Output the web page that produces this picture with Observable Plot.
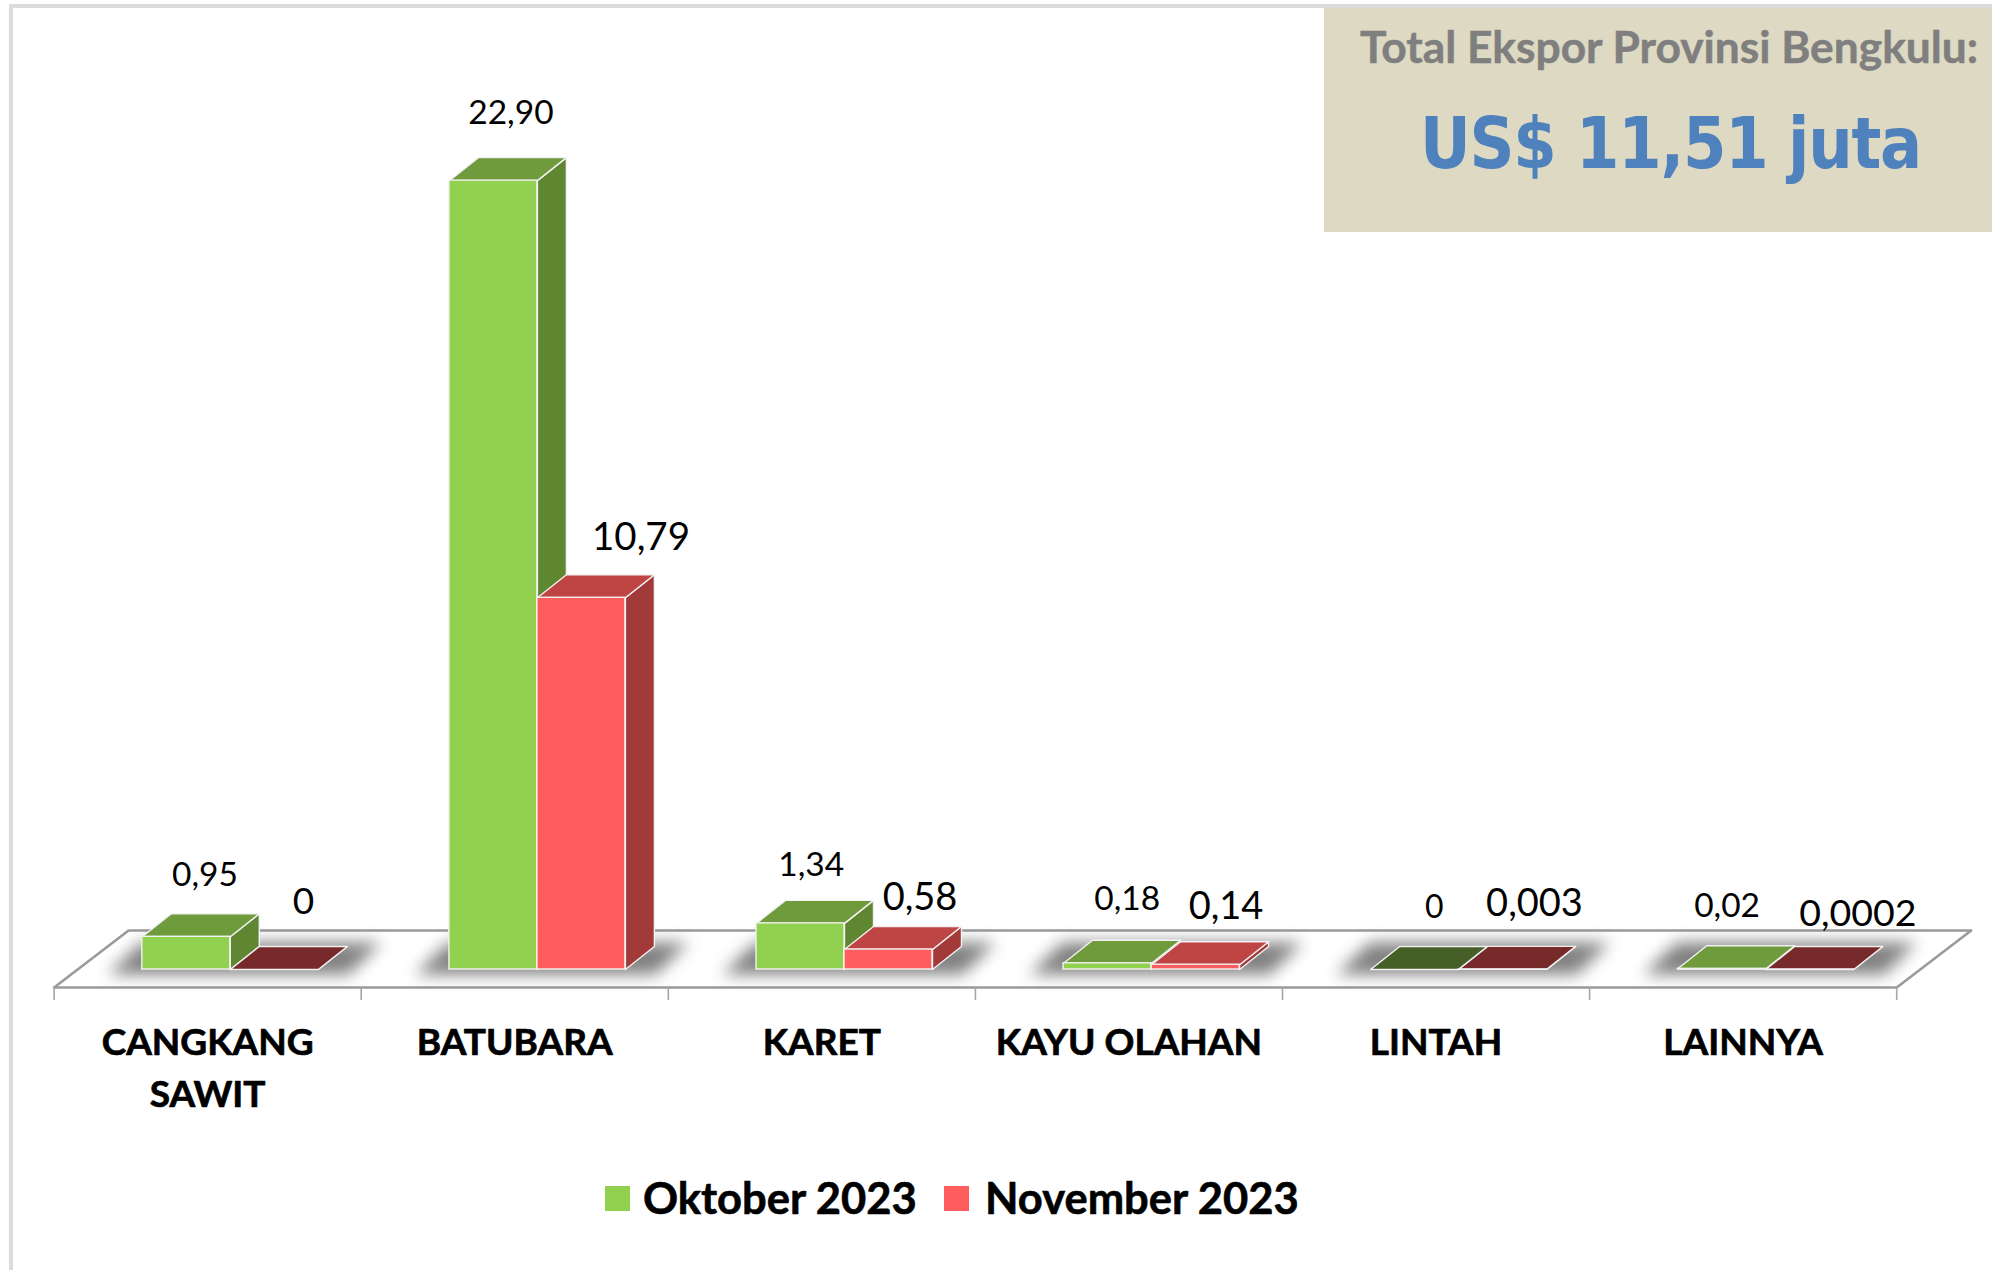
<!DOCTYPE html>
<html>
<head>
<meta charset="utf-8">
<script src="https://cdn.jsdelivr.net/npm/d3@7"></script>
<script src="https://cdn.jsdelivr.net/npm/@observablehq/plot@0.6"></script>
<style>
  html, body { margin: 0; padding: 0; background: #fff; }
  #page { position: relative; width: 1992px; height: 1270px; overflow: hidden; font-family: Lato, sans-serif; }
  .edge { position: absolute; background: #dcdcdc; }
  #box { position: absolute; left: 1324px; top: 8px; width: 668px; height: 224px; background: #ddd9c3; }
  #box div { position: absolute; white-space: nowrap; line-height: 1; }
  #boxTitle { left: 36px; top: 15.5px; font: 700 44.3px Lato, sans-serif; color: #7f7f7f; -webkit-text-stroke: 0.5px #7f7f7f; }
  #boxValue { left: 96px; top: 100px; font: 700 71px "DejaVu Sans", sans-serif; color: #4f81bd; letter-spacing: -1.4px; transform: scaleX(0.88); transform-origin: left center; }
  #legend { position: absolute; left: 0; top: 0; width: 100%; font: 700 43.5px Lato, sans-serif; color: #000; -webkit-text-stroke: 0.6px #000; }
  #legend span { position: absolute; white-space: nowrap; line-height: 1; }
  #legend i { position: absolute; width: 25px; height: 25px; top: 1186px; }
  svg { position: absolute; left: 0; top: 0; overflow: visible; }
</style>
</head>
<body>
<div id="page">
  <div class="edge" style="left:9px;top:4px;width:4px;height:1266px"></div>
  <div class="edge" style="left:9px;top:4px;width:1983px;height:4px"></div>
  <div id="chart"></div>
  <div id="box">
    <div id="boxTitle">Total Ekspor Provinsi Bengkulu:</div>
    <div id="boxValue">US$ 11,51 juta</div>
  </div>
  <div id="legend"></div>
</div>
<script>
// ---- data ----
const categories = ["CANGKANG\nSAWIT", "BATUBARA", "KARET", "KAYU OLAHAN", "LINTAH", "LAINNYA"];
const seriesNames = ["Oktober 2023", "November 2023"];
const oktober = [0.95, 22.90, 1.34, 0.18, 0, 0.02];
const november = [0, 10.79, 0.58, 0.14, 0.003, 0.0002];
const oktoberLabels = ["0,95", "22,90", "1,34", "0,18", "0", "0,02"];
const novemberLabels = ["0", "10,79", "0,58", "0,14", "0,003", "0,0002"];

// ---- styling and layout ----
const palette = [
  {front: "#92d050", top: "#6f9b3c", side: "#5f8732", flat: "#465f26"},
  {front: "#ff5d5d", top: "#bf4545", side: "#a33a3a", flat: "#772a2a"}
];
const yPerPx = 1 / 34.45, xPerPx = 1 / 307.1;
const barStart = 88.2 * xPerPx, barWidth = 88 * xPerPx;
const depthX = 29 * xPerPx, depthY = 23 * yPerPx;
const floorFront = -18 * yPerPx, floorBack = 39 * yPerPx, floorSkew = 74.5 * xPerPx;
const labelOffsets = [
  [[18.6, -50.3, 33.5], [17.5, -56.4, 33.5], [10.7, -47.8, 33.5], [19.6, -52.8, 33.5], [19.5, -51.3, 32], [5.3, -51.6, 33.5]],
  [[29.3, -56, 37], [59.6, -47.7, 38.5], [31.5, -40, 38], [30.4, -46, 38], [31.8, -53, 38], [48, -43, 37.5]]
];

// ---- geometry derived from the values ----
const bars = [oktober, november].flatMap((vals, s) => vals.map((v, c) => {
  const x1 = c + barStart + s * barWidth, x2 = x1 + barWidth;
  return {c, s, v, x1, x2, label: (s ? novemberLabels : oktoberLabels)[c], offset: labelOffsets[s][c]};
}));
const poly = (id, fill, pts) => pts.concat([pts[0]]).map(([x, y]) => ({id, fill, x, y}));
const faces = bars.flatMap(b => {
  const p = palette[b.s], flat = b.v < 0.01;
  return [
    ...poly(`side-${b.c}-${b.s}`, p.side, [[b.x2, 0], [b.x2 + depthX, depthY], [b.x2 + depthX, b.v + depthY], [b.x2, b.v]]),
    ...poly(`top-${b.c}-${b.s}`, flat ? p.flat : p.top, [[b.x1, b.v], [b.x1 + depthX, b.v + depthY], [b.x2 + depthX, b.v + depthY], [b.x2, b.v]])
  ];
});
const shadows = categories.flatMap((_, c) => {
  const a = c + barStart - 34 * xPerPx, b = c + barStart + 2 * barWidth + 30 * xPerPx;
  const lo = -5 * yPerPx, hi = depthY + 4 * yPerPx, sk = depthX + 4 * xPerPx;
  return poly(`shadow-${c}`, "#808080", [[a, lo], [a + sk, hi], [b + sk, hi], [b, lo]]);
});
const floor = poly("floor", "#ffffff", [[0, floorFront], [floorSkew, floorBack], [6 + floorSkew, floorBack], [6, floorFront]]);

const chart = Plot.plot({
  width: 1992,
  height: 1150,
  marginLeft: 53.6,
  marginRight: 95.8,
  marginTop: 0,
  marginBottom: 163,
  style: {background: "transparent", fontFamily: "Lato, sans-serif"},
  x: {domain: [0, 6], axis: null},
  y: {domain: [floorFront, 969 * yPerPx], axis: null},
  marks: [
    Plot.line(floor, {x: "x", y: "y", z: "id", fill: "fill", stroke: "#9a9a9a", strokeWidth: 2.6, curve: "linear"}),
    Plot.axisX({ticks: d3.range(7), tickFormat: () => "", tickSize: 13, tickPadding: 0, stroke: "#a6a6a6", strokeWidth: 1.6, label: null}),
    Plot.line(shadows, {x: "x", y: "y", z: "id", fill: "fill", stroke: "none", curve: "linear", imageFilter: "blur(8px)"}),
    Plot.line(faces, {x: "x", y: "y", z: "id", fill: "fill", stroke: "#f2f2f2", strokeWidth: 1.4, curve: "linear"}),
    Plot.rect(bars, {x1: "x1", x2: "x2", y1: 0, y2: "v", fill: d => palette[d.s].front, stroke: "#f2f2f2", strokeWidth: 1.4}),
    ...bars.map(b => Plot.text([b], {
      x: d => (d.x1 + d.x2) / 2, y: "v", text: "label",
      dx: b.offset[0], dy: b.offset[1], fontSize: b.offset[2],
      lineAnchor: "bottom", textAnchor: "middle", fill: "#000"
    })),
    Plot.text(categories, {
      x: (d, i) => i + 0.5, y: floorFront, text: d => d,
      lineAnchor: "top", dy: 30, lineHeight: 1.41, fontSize: 37, fontWeight: 700,
      textAnchor: "middle", fill: "#000", stroke: "#000", strokeWidth: 0.7
    })
  ]
});
document.getElementById("chart").appendChild(chart);

// ---- legend below the chart ----
const legend = document.getElementById("legend");
[[604.5, 643], [944, 985]].forEach(([sx, tx], s) => {
  const sw = document.createElement("i");
  sw.style.left = sx + "px";
  sw.style.background = palette[s].front;
  legend.appendChild(sw);
  const t = document.createElement("span");
  t.textContent = seriesNames[s];
  t.style.left = tx + "px";
  t.style.top = "1175.5px";
  legend.appendChild(t);
});
</script>
</body>
</html>
